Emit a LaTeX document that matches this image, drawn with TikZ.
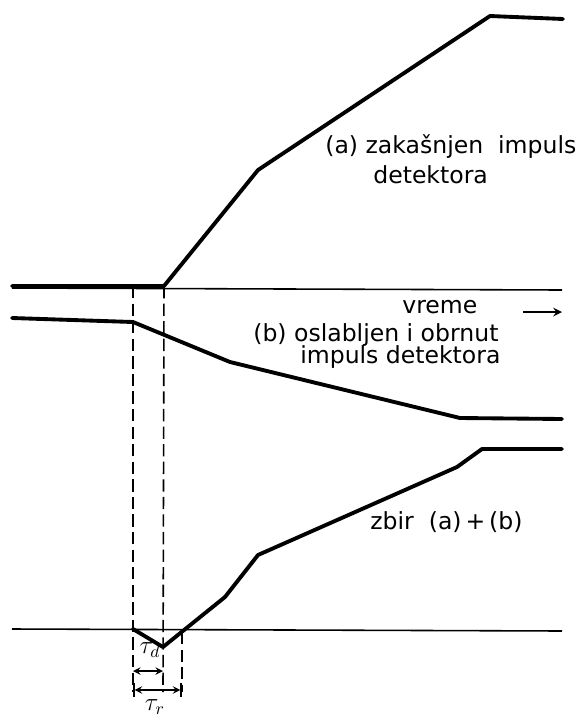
\documentclass[tikz,border=0pt]{standalone}
\usepackage{fontspec}
\setmainfont{DejaVu Sans}
\usetikzlibrary{arrows,positioning,calc}

\begin{document}
\begin{tikzpicture}[
        x=0.02cm, y=-0.02cm,
        signal/.style={line width=2.2pt, line join=round, line cap=round},
        axis/.style={line width=0.9pt},
        guide/.style={line width=0.9pt, dash pattern=on 7pt off 3pt},
        arrow/.style={<->, >=stealth, line width=0.9pt},
        lbl/.style={font=\fontsize{13.4}{15}\selectfont, inner sep=0pt, anchor=west}
    ]
        \useasboundingbox (0,0) rectangle (576,718);

        % Points of the curves
        \coordinate (a0) at (12,286);
        \coordinate (a1) at (164,286);
        \coordinate (a2) at (258,170);
        \coordinate (a3) at (490,16);
        \coordinate (a4) at (563,19);
        \coordinate (b0) at (12,318);
        \coordinate (b1) at (133,322);
        \coordinate (b2) at (230,362);
        \coordinate (b3) at (460,418);
        \coordinate (b4) at (562,419);
        \coordinate (s0) at (133,629);
        \coordinate (s1) at (163,647);
        \coordinate (s2) at (225,597);
        \coordinate (s3) at (258,555);
        \coordinate (s4) at (457,467);
        \coordinate (s5) at (482,449);
        \coordinate (s6) at (562,449);

        % Axes
        \coordinate (ax0) at (12,288);
        \coordinate (ax1) at (562,290);
        \coordinate (bx0) at (12,629);
        \coordinate (bx1) at (562,631);
        \draw[axis] (ax0) -- (ax1);
        \draw[axis] (bx0) -- (bx1);

        % Curves
        \draw[signal] (a0) -- (a1) -- (a2) -- (a3) -- (a4);
        \draw[signal] (b0) -- (b1) -- (b2) -- (b3) -- (b4);
        \draw[signal] (s0) -- (s1) -- (s2) -- (s3) -- (s4) -- (s5) -- (s6);

        % Dashed guides
        \coordinate (g1) at (133,692);
        \coordinate (g2) at (163,692);
        \coordinate (g3a) at (182,632);
        \coordinate (g3) at (182,692);
        \draw[guide] (133,286) -- (g1);
        \draw[guide] (a1) -- (g2);
        \draw[guide] (g3a) -- (g3);

        % Times
        \coordinate (td0) at (133,671);
        \coordinate (td1) at (163,671);
        \coordinate (tr0) at (133,690);
        \coordinate (tr1) at (182,690);
        \draw[arrow] (td0) -- (td1);
        \draw[arrow, |<->|] (tr0) -- (tr1);
        \node[font=\Large] (td) at (150,650) {$\tau_d$};
        \node[font=\Large] (tr) at (155,707) {$\tau_r$};

        % Labels
        \node[lbl] (la) at (325,147) {(a) zakašnjen\ \ impuls};
        \node[lbl] (la2) at (373,175) {detektora};
        \node[lbl] (lt) at (402,307) {vreme};
        \coordinate (t0) at (523,312);
        \coordinate (t1) at (562,312);
        \draw[arrow, ->, line width=1.2pt] (t0) -- (t1);
        \node[lbl] (lb) at (253,335) {(b) oslabljen i obrnut};
        \node[lbl] (lb2) at (300,357) {impuls detektora};
        \node[lbl] (ls) at (370,522) {zbir\ \ (a)\,+\,(b)};

    \end{tikzpicture}
\end{document}
